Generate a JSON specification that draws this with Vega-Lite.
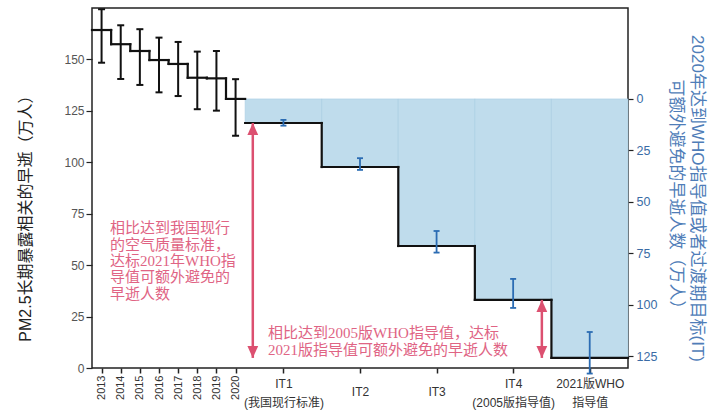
{
  "$schema": "https://vega.github.io/schema/vega-lite/v6.json",
  "width": 536,
  "height": 360,
  "autosize": {"type": "none"},
  "padding": {"left": 92, "top": 8, "right": 92, "bottom": 44},
  "background": "white",
  "config": {
    "view": {"stroke": "#222", "strokeWidth": 1.5},
    "font": "Liberation Sans, Noto Sans CJK SC"
  },
  "datasets": {
    "steps": [
      {"cat": "2013", "x0": 0, "x1": 1, "xc": 0.5, "v": 164.3, "lo": 148.4, "hi": 174.4},
      {"cat": "2014", "x0": 1, "x1": 2, "xc": 1.5, "v": 157.4, "lo": 140.5, "hi": 166.6},
      {"cat": "2015", "x0": 2, "x1": 3, "xc": 2.5, "v": 154.1, "lo": 137.6, "hi": 164.7},
      {"cat": "2016", "x0": 3, "x1": 4, "xc": 3.5, "v": 149.7, "lo": 134.0, "hi": 160.6},
      {"cat": "2017", "x0": 4, "x1": 5, "xc": 4.5, "v": 147.8, "lo": 132.2, "hi": 158.5},
      {"cat": "2018", "x0": 5, "x1": 6, "xc": 5.5, "v": 141.1, "lo": 125.8, "hi": 153.8},
      {"cat": "2019", "x0": 6, "x1": 7, "xc": 6.5, "v": 140.8, "lo": 125.1, "hi": 154.1},
      {"cat": "2020", "x0": 7, "x1": 8, "xc": 7.5, "v": 130.8, "lo": 112.9, "hi": 140.4},
      {"cat": "IT1", "x0": 8, "x1": 12, "xc": 10, "v": 119.1},
      {"cat": "IT2", "x0": 12, "x1": 16, "xc": 14, "v": 97.7},
      {"cat": "IT3", "x0": 16, "x1": 20, "xc": 18, "v": 59.3},
      {"cat": "IT4", "x0": 20, "x1": 24, "xc": 22, "v": 33.1},
      {"cat": "WHO", "x0": 24, "x1": 28, "xc": 26, "v": 4.9}
    ],
    "avoided": [
      {"cat": "IT1", "xc": 10, "lo": 10.2, "hi": 13.0},
      {"cat": "IT2", "xc": 14, "lo": 28.8, "hi": 34.5},
      {"cat": "IT3", "xc": 18, "lo": 64.2, "hi": 74.7},
      {"cat": "IT4", "xc": 22, "lo": 87.5, "hi": 101.6},
      {"cat": "WHO", "xc": 26, "lo": 113.3, "hi": 133.5}
    ],
    "arrows": [
      {"x": 8.4, "from": 119.1, "to": 4.9},
      {"x": 23.5, "from": 33.1, "to": 4.9}
    ]
  },
  "layer": [
    {
      "layer": [
        {
          "data": {"name": "steps"},
          "transform": [{"filter": "datum.x0 >= 8"}],
          "mark": {"type": "bar", "fill": "#bfdcec", "stroke": "#a7cde2", "strokeWidth": 0.6},
          "encoding": {
            "x": {
              "field": "x0", "type": "quantitative",
              "scale": {"domain": [0, 28], "nice": false, "zero": false},
              "axis": {
                "values": [0.5, 1.5, 2.5, 3.5, 4.5, 5.5, 6.5, 7.5, 10, 14, 18, 22, 26],
                "title": null,
                "grid": false,
                "domain": false,
                "tickSize": 5,
                "tickWidth": 1.5,
                "tickColor": "#222",
                "labelOverlap": false,
                "labelFlush": false,
                "labelBound": false,
                "labelColor": "#333",
                "labelLineHeight": 19,
                "labelAngle": {"expr": "datum.value < 8 ? 270 : 0"},
                "labelAlign": {"condition": {"test": "datum.value < 8", "value": "right"}, "value": "center"},
                "labelBaseline": "middle",
                "labelPadding": {"expr": "datum.value < 8 ? 2 : (datum.value == 14 || datum.value == 18) ? 18.5 : 10"},
                "labelFontSize": {"condition": {"test": "datum.value < 8", "value": 11}, "value": 12},
                "labelExpr": "datum.value == 10 ? ['IT1', '(我国现行标准)'] : datum.value == 14 ? 'IT2' : datum.value == 18 ? 'IT3' : datum.value == 22 ? ['IT4', '(2005版指导值)'] : datum.value == 26 ? ['2021版WHO', '指导值'] : datum.value == 0.5 ? '2013' : datum.value == 1.5 ? '2014' : datum.value == 2.5 ? '2015' : datum.value == 3.5 ? '2016' : datum.value == 4.5 ? '2017' : datum.value == 5.5 ? '2018' : datum.value == 6.5 ? '2019' : '2020'"
              }
            },
            "x2": {"field": "x1"},
            "y": {
              "field": "v", "type": "quantitative",
              "scale": {"domain": [0, 175], "nice": false, "zero": true},
              "axis": {
                "orient": "left",
                "values": [0, 25, 50, 75, 100, 125, 150],
                "title": "PM2.5长期暴露相关的早逝（万人）",
                "titleFont": "Liberation Sans, Noto Sans CJK SC",
                "titleFontSize": 16,
                "titleFontWeight": "normal",
                "titleColor": "#222",
                "titleAngle": -90,
                "titleAlign": "center",
                "titleBaseline": "middle",
                "titleX": -67,
                "titleY": 206,
                "grid": false,
                "domain": false,
                "tickSize": 6,
                "tickWidth": 1.2,
                "tickColor": "#222",
                "labelPadding": 2,
                "labelFontSize": 12,
                "labelColor": "#555"
              }
            },
            "y2": {"datum": 130.8}
          }
        },
        {
          "data": {"name": "steps"},
          "mark": {"type": "rule", "color": "#111", "strokeWidth": 2.2, "strokeCap": "square"},
          "encoding": {
            "x": {"field": "x0", "type": "quantitative"},
            "x2": {"field": "x1"},
            "y": {"field": "v", "type": "quantitative"}
          }
        },
        {
          "data": {"name": "steps"},
          "transform": [
            {"window": [{"op": "lead", "field": "v", "as": "next"}], "sort": [{"field": "x0"}]},
            {"filter": "datum.next != null && datum.x1 != 8"}
          ],
          "mark": {"type": "rule", "color": "#111", "strokeWidth": 2.2, "strokeCap": "square"},
          "encoding": {
            "x": {"field": "x1", "type": "quantitative"},
            "y": {"field": "v", "type": "quantitative"},
            "y2": {"field": "next"}
          }
        },
        {
          "data": {"name": "steps"},
          "transform": [{"filter": "datum.x0 < 8"}],
          "mark": {"type": "rule", "color": "#111", "strokeWidth": 2},
          "encoding": {
            "x": {"field": "xc", "type": "quantitative"},
            "y": {"field": "lo", "type": "quantitative"},
            "y2": {"field": "hi"}
          }
        },
        {
          "data": {"name": "steps"},
          "transform": [{"filter": "datum.x0 < 8"}, {"fold": ["lo", "hi"], "as": ["end", "val"]}],
          "mark": {"type": "tick", "orient": "horizontal", "color": "#111", "size": 7, "thickness": 2, "opacity": 1},
          "encoding": {
            "x": {"field": "xc", "type": "quantitative"},
            "y": {"field": "val", "type": "quantitative"}
          }
        },
        {
          "data": {"name": "arrows"},
          "mark": {"type": "rule", "color": "#dc5070", "strokeWidth": 2.5},
          "encoding": {
            "x": {"field": "x", "type": "quantitative"},
            "y": {"field": "from", "type": "quantitative"},
            "y2": {"field": "to"}
          }
        },
        {
          "data": {"name": "arrows"},
          "mark": {"type": "point", "shape": "M0,-1L0.9,1L-0.9,1Z", "size": 144, "filled": true, "opacity": 1, "color": "#dc5070", "yOffset": 6},
          "encoding": {
            "x": {"field": "x", "type": "quantitative"},
            "y": {"field": "from", "type": "quantitative"}
          }
        },
        {
          "data": {"name": "arrows"},
          "mark": {"type": "point", "shape": "M0,1L0.9,-1L-0.9,-1Z", "size": 144, "filled": true, "opacity": 1, "color": "#dc5070", "yOffset": -6},
          "encoding": {
            "x": {"field": "x", "type": "quantitative"},
            "y": {"field": "to", "type": "quantitative"}
          }
        },
        {
          "data": {"values": [{"note": "a", "nx": 0.94, "ny": 67.9}]},
          "mark": {
            "type": "text",
            "text": ["相比达到我国现行", "的空气质量标准，", "达标2021年WHO指", "导值可额外避免的", "早逝人数"],
            "align": "left", "baseline": "middle", "fontSize": 15, "lineHeight": 16.3,
            "font": "Liberation Serif, Noto Sans CJK SC", "color": "#e06484"
          },
          "encoding": {
            "x": {"field": "nx", "type": "quantitative"},
            "y": {"field": "ny", "type": "quantitative"}
          }
        },
        {
          "data": {"values": [{"note": "b", "nx": 9.2, "ny": 16.8}]},
          "mark": {
            "type": "text",
            "text": ["相比达到2005版WHO指导值，达标", "2021版指导值可额外避免的早逝人数"],
            "align": "left", "baseline": "middle", "fontSize": 15, "lineHeight": 17,
            "font": "Liberation Serif, Noto Sans CJK SC", "color": "#e06484"
          },
          "encoding": {
            "x": {"field": "nx", "type": "quantitative"},
            "y": {"field": "ny", "type": "quantitative"}
          }
        }
      ]
    },
    {
      "data": {"name": "avoided"},
      "layer": [
        {
          "mark": {"type": "rule", "color": "#2b6cb3", "strokeWidth": 1.8},
          "encoding": {
            "x": {"field": "xc", "type": "quantitative"},
            "y": {
              "field": "lo", "type": "quantitative",
              "scale": {"domain": [-44.2, 130.8], "reverse": true, "nice": false, "zero": false},
              "axis": {
                "orient": "right",
                "values": [0, 25, 50, 75, 100, 125],
                "title": ["2020年达到WHO指导值或者过渡期目标(IT)", "可额外避免的早逝人数（万人）"],
                "titleFont": "Liberation Sans, Noto Sans CJK SC",
                "titleFontSize": 17,
                "titleFontWeight": "normal",
                "titleColor": "#4f7db8",
                "titleAngle": 90,
                "titleAlign": "center",
                "titleBaseline": "middle",
                "titleLineHeight": 21,
                "titleX": 68,
                "titleY": 190,
                "grid": false,
                "domain": false,
                "tickSize": 5,
                "tickWidth": 1.2,
                "tickColor": "#222",
                "labelPadding": 3,
                "labelFontSize": 12.5,
                "labelColor": "#3a6ba5"
              }
            },
            "y2": {"field": "hi"}
          }
        },
        {
          "transform": [{"fold": ["lo", "hi"], "as": ["end", "val"]}],
          "mark": {"type": "tick", "orient": "horizontal", "color": "#2b6cb3", "size": 6, "thickness": 1.8, "opacity": 1},
          "encoding": {
            "x": {"field": "xc", "type": "quantitative"},
            "y": {"field": "val", "type": "quantitative"}
          }
        }
      ]
    }
  ],
  "resolve": {"scale": {"y": "independent"}}
}
